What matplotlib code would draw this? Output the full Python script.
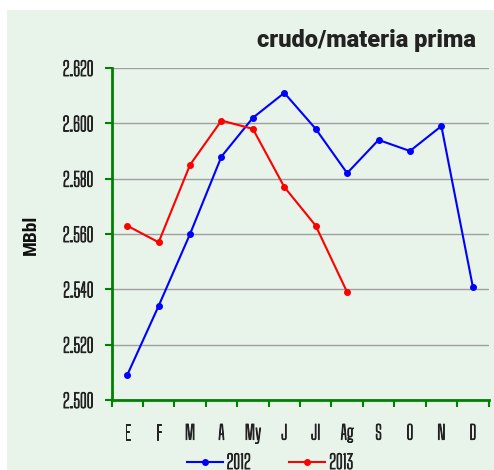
import matplotlib
matplotlib.use("Agg")
import matplotlib.pyplot as plt
import matplotlib.patheffects as pe
from matplotlib.patches import Rectangle
from matplotlib.lines import Line2D

months = ["E", "F", "M", "A", "My", "J", "Jl", "Ag", "S", "O", "N", "D"]
values_2012 = [2.509, 2.534, 2.560, 2.588, 2.602, 2.611, 2.598, 2.582, 2.594, 2.590, 2.599, 2.541]
values_2013 = [2.563, 2.557, 2.585, 2.601, 2.598, 2.577, 2.563, 2.539]
y_ticks = [2.500, 2.520, 2.540, 2.560, 2.580, 2.600, 2.620]
y_tick_labels = ["2.500", "2.520", "2.540", "2.560", "2.580", "2.600", "2.620"]

NARROW = ["Big Shoulders Text", "DejaVu Sans"]
BOLD_NARROW = ["Roboto Condensed", "DejaVu Sans"]
TITLE_FONT = ["Roboto", "DejaVu Sans"]
BG = "#e8f3ea"
GREEN = "#008000"
TXT = "#222222"
thicken = [pe.withStroke(linewidth=0.7, foreground=TXT)]

W, H = 494, 470
fig = plt.figure(figsize=(W / 100, H / 100), dpi=100)
fig.patch.set_facecolor("white")
panel = Rectangle((7 / W, 0), 1 - 7 / W, 1 - 10 / H, transform=fig.transFigure,
                  facecolor=BG, edgecolor="none", zorder=-10)
fig.add_artist(panel)

ax = fig.add_axes([111.5 / W, 1 - 400 / H, (488.5 - 111.5) / W, (400 - 68) / H])
ax.patch.set_alpha(0)

x12 = [i + 0.5 for i in range(len(values_2012))]
x13 = [i + 0.5 for i in range(len(values_2013))]
ax.plot(x12, values_2012, color="#0000ff", lw=1.5, marker="o", ms=4, zorder=3)
ax.plot(x13, values_2013, color="#ff0000", lw=1.5, marker="o", ms=4, zorder=3)

ax.set_xlim(0, 12)
ax.set_ylim(2.500, 2.620)
ax.set_yticks(y_ticks)
ax.set_yticklabels(y_tick_labels, fontfamily=NARROW, fontsize=14, color=TXT)
ax.set_xticks(range(13))
ax.set_xticklabels([])
ax.set_xticks([i + 0.5 for i in range(12)], minor=True)
ax.set_xticklabels(months, minor=True, fontfamily=NARROW, fontsize=14, color=TXT)
for lbl in ax.get_yticklabels() + ax.get_xticklabels(minor=True):
    lbl.set_path_effects(thicken)
ax.tick_params(axis="x", which="minor", length=0, pad=17)
ax.tick_params(axis="both", which="major", direction="out", length=5,
               width=1.5, color=GREEN, pad=8)

ax.yaxis.grid(True, color="#a0a0a0", lw=1.0)
ax.set_axisbelow(True)
for s in ["top", "right"]:
    ax.spines[s].set_visible(False)
for s in ["left", "bottom"]:
    ax.spines[s].set_color(GREEN)
    ax.spines[s].set_linewidth(2)

fig.text(31 / W, 1 - 235 / H, "MBbl", rotation=90, ha="center", va="center",
         fontfamily=BOLD_NARROW, fontweight="bold", fontsize=14, color="#111111")
fig.text(476 / W, 1 - 40 / H, "crudo/materia prima", ha="right", va="center",
         fontfamily=TITLE_FONT, fontweight="heavy", fontsize=17, color=TXT)

handles = [Line2D([], [], color="#0000ff", lw=1.5, marker="o", ms=4),
           Line2D([], [], color="#ff0000", lw=1.5, marker="o", ms=4)]
leg = fig.legend(handles, ["2012", "2013"], loc="center", bbox_to_anchor=(270 / W, 1 - 463 / H),
                 ncol=2, frameon=False, handlelength=1.85, columnspacing=2.0,
                 handletextpad=0.2, prop={"family": NARROW, "size": 14})
for t in leg.get_texts():
    t.set_color(TXT)
    t.set_path_effects(thicken)

fig.savefig("out.png", dpi=100, facecolor=fig.get_facecolor())
